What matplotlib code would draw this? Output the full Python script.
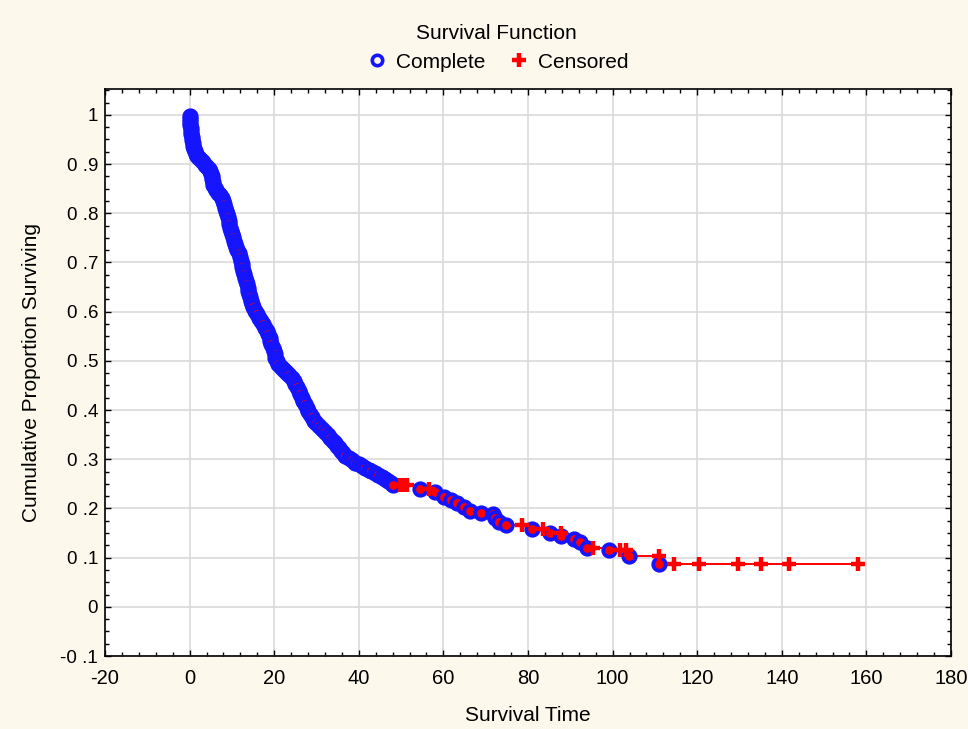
import matplotlib
matplotlib.use("Agg")
import matplotlib.pyplot as plt
from matplotlib.ticker import MultipleLocator, FixedLocator
from matplotlib.lines import Line2D

plt.rcParams['font.family'] = ['Liberation Sans', 'DejaVu Sans']
plt.rcParams['axes.unicode_minus'] = False

# event (complete) times and survival after each event
complete_t = [0.05, 0.1, 0.15, 0.2, 0.25, 0.3, 0.4, 0.5, 0.6, 0.7, 0.85, 1.0, 1.2, 1.5, 1.8,
              2.2, 2.7, 3.2, 3.7, 4.2, 4.6, 4.9, 5.1, 5.3,
              5.4, 5.5, 5.6, 5.9, 6.3, 6.8, 7.2, 7.6, 8.0,
              8.2, 8.4, 8.6, 8.8, 9.0, 9.2, 9.4, 9.6, 9.8, 10.0, 10.2, 10.4, 10.7, 11.0, 11.3, 11.6, 11.9, 12.1,
              12.3, 12.5, 12.7, 12.9, 13.1, 13.3, 13.5, 13.7, 13.9, 14.1, 14.3, 14.5,
              14.8, 15.1, 15.5, 16.0, 16.4, 16.9, 17.4, 17.9, 18.3, 18.6, 18.9, 19.1,
              19.3, 19.6, 19.9, 20.1, 20.3, 20.6,
              21.0, 21.6, 22.1, 22.6, 23.1, 23.6, 24.2,
              24.6, 25.0, 25.4, 25.8, 26.2, 26.6, 26.9, 27.3, 27.7, 28.1, 28.5, 28.9, 29.3,
              29.9, 30.6, 31.3, 32.0, 32.6, 33.3, 33.8, 34.3, 34.8, 35.3, 35.8, 36.3, 36.8,
              37.6, 38.4, 39.2, 40.0, 40.8, 41.5, 42.3, 43.0, 43.8, 44.6, 45.5, 46.3, 47.0, 47.6, 48.2,
              54.4, 58.1, 60.1, 61.7, 63.1, 64.8, 66.2, 68.8, 71.8, 72.3, 73.1, 74.9,
              81.0, 85.3, 87.9, 90.8, 92.3, 94.0, 99.1, 103.9, 111.0]
complete_s = [0.997, 0.991, 0.985, 0.979, 0.973, 0.967, 0.961, 0.955, 0.949, 0.943, 0.937, 0.931, 0.926, 0.921, 0.916,
              0.912, 0.908, 0.904, 0.899, 0.895, 0.890, 0.885, 0.880, 0.875,
              0.869, 0.863, 0.857, 0.852, 0.847, 0.842, 0.837, 0.831, 0.825,
              0.818, 0.811, 0.805, 0.799, 0.792, 0.785, 0.778, 0.771, 0.764, 0.757, 0.751, 0.744, 0.738, 0.732, 0.726, 0.719, 0.711, 0.703,
              0.697, 0.690, 0.683, 0.676, 0.669, 0.663, 0.656, 0.649, 0.642, 0.635, 0.629, 0.622,
              0.616, 0.609, 0.602, 0.595, 0.588, 0.581, 0.574, 0.567, 0.561, 0.554, 0.547, 0.541,
              0.534, 0.527, 0.520, 0.513, 0.506, 0.500,
              0.494, 0.488, 0.484, 0.480, 0.476, 0.471, 0.466,
              0.459, 0.452, 0.446, 0.439, 0.432, 0.425, 0.419, 0.412, 0.405, 0.398, 0.391, 0.385, 0.378,
              0.373, 0.367, 0.361, 0.355, 0.350, 0.344, 0.338, 0.333, 0.327, 0.322, 0.317, 0.312, 0.307,
              0.303, 0.298, 0.293, 0.290, 0.286, 0.283, 0.279, 0.276, 0.272, 0.268, 0.263, 0.259, 0.255, 0.251, 0.247,
              0.240, 0.233, 0.224, 0.217, 0.211, 0.202, 0.195, 0.190, 0.188, 0.180, 0.173, 0.167,
              0.159, 0.151, 0.144, 0.138, 0.131, 0.119, 0.115, 0.104, 0.088]

# censored observations
censored_t = [49.8, 50.5, 51.3, 56.6, 78.6, 83.6, 87.9, 95.3, 101.7, 103.1, 111.0,
              114.5, 120.4, 129.6, 135.0, 141.6, 158.0]
censored_s = [0.247, 0.247, 0.247, 0.240, 0.167, 0.159, 0.151, 0.119, 0.115, 0.115, 0.104,
              0.088, 0.088, 0.088, 0.088, 0.088, 0.088]

y_ticks = [-0.1, 0, 0.1, 0.2, 0.3, 0.4, 0.5, 0.6, 0.7, 0.8, 0.9, 1]
y_labels = ['-0 .1', '0', '0 .1', '0 .2', '0 .3', '0 .4', '0 .5', '0 .6', '0 .7', '0 .8', '0 .9', '1']

bg = '#fdf8ec'
blue = '#1414ff'
fig = plt.figure(figsize=(9.68, 7.29), dpi=100, facecolor=bg)
ax = fig.add_axes([0.1085, 0.1001, 0.8739, 0.7774])
ax.set_facecolor('white')

# step line of the survival function
step_t = [0] + complete_t + [censored_t[-1]]
step_s = [1.0] + complete_s + [complete_s[-1]]
ax.step(step_t, step_s, where='post', color='red', lw=1.4, zorder=2)

ax.plot(complete_t, complete_s, 'o', ms=9, mfc='red', mec=blue, mew=2.7, zorder=3)
ax.plot(censored_t, censored_s, '+', ms=10, mec='red', mew=3.2, zorder=4)

ax.set_xlim(-20, 180)
ax.set_ylim(-0.1, 1.052)
ax.xaxis.set_major_locator(MultipleLocator(20))
ax.xaxis.set_minor_locator(MultipleLocator(4))
ax.yaxis.set_major_locator(FixedLocator(y_ticks))
ax.set_yticklabels(y_labels)
ax.yaxis.set_minor_locator(MultipleLocator(0.025))
ax.grid(True, which='major', color='#dadada', lw=1.2, zorder=0)
ax.set_axisbelow(True)

ax.tick_params(which='both', direction='in', top=True, right=True, color='black', width=1)
ax.tick_params(which='major', length=4)
ax.tick_params(which='minor', length=3)
ax.tick_params(axis='x', pad=9, labelsize=14.5)
ax.tick_params(axis='y', pad=5, labelsize=13.5)
for sp in ax.spines.values():
    sp.set_linewidth(1.2)
    sp.set_color('black')

ax.set_xlabel('Survival Time', fontsize=15, labelpad=13)
ax.set_ylabel('Cumulative Proportion Surviving', fontsize=15, labelpad=14)

handles = [Line2D([], [], ls='none', marker='o', ms=7.5, mfc='none', mec=blue, mew=2.6),
           Line2D([], [], ls='none', marker='+', ms=10, mec='red', mew=3.2)]
leg = fig.legend(handles, ['Complete', 'Censored'], title='Survival Function', ncol=2,
                 loc='upper center', bbox_to_anchor=(0.513, 0.988), frameon=False,
                 fontsize=15, title_fontsize=15, handletextpad=0.3, columnspacing=1.0,
                 handlelength=1.2, labelspacing=0.3)
leg.get_title().set_position((0, 3))

fig.savefig('out.png', dpi=100, facecolor=bg)
